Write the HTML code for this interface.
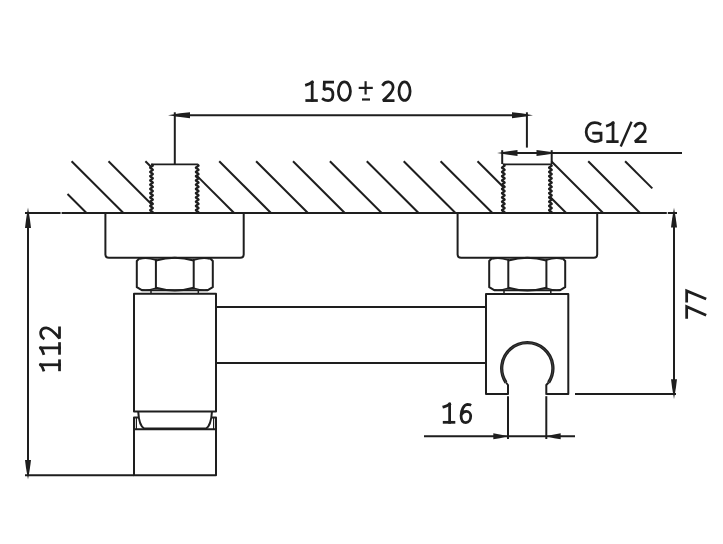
<!DOCTYPE html>
<html><head><meta charset="utf-8"><style>
html,body{margin:0;padding:0;background:#fff;width:723px;height:544px;overflow:hidden}
svg{display:block}
text{font-family:"Liberation Sans",sans-serif;fill:#1e1e1e}
</style></head><body>
<svg width="723" height="544" viewBox="0 0 723 544">
<rect width="723" height="544" fill="#fff"/>
<line x1="67.50" y1="194.00" x2="86.50" y2="213.00" stroke="#1e1e1e" stroke-width="2.0"/>
<line x1="71.60" y1="161.20" x2="123.40" y2="213.00" stroke="#1e1e1e" stroke-width="2.0"/>
<line x1="108.50" y1="161.20" x2="151.50" y2="204.20" stroke="#1e1e1e" stroke-width="2.0"/>
<line x1="145.40" y1="161.20" x2="151.50" y2="167.30" stroke="#1e1e1e" stroke-width="2.0"/>
<line x1="197.20" y1="176.10" x2="234.10" y2="213.00" stroke="#1e1e1e" stroke-width="2.0"/>
<line x1="219.20" y1="161.20" x2="271.00" y2="213.00" stroke="#1e1e1e" stroke-width="2.0"/>
<line x1="256.10" y1="161.20" x2="307.90" y2="213.00" stroke="#1e1e1e" stroke-width="2.0"/>
<line x1="293.00" y1="161.20" x2="344.80" y2="213.00" stroke="#1e1e1e" stroke-width="2.0"/>
<line x1="329.90" y1="161.20" x2="381.70" y2="213.00" stroke="#1e1e1e" stroke-width="2.0"/>
<line x1="366.80" y1="161.20" x2="418.60" y2="213.00" stroke="#1e1e1e" stroke-width="2.0"/>
<line x1="403.70" y1="161.20" x2="455.50" y2="213.00" stroke="#1e1e1e" stroke-width="2.0"/>
<line x1="440.60" y1="161.20" x2="492.40" y2="213.00" stroke="#1e1e1e" stroke-width="2.0"/>
<line x1="477.50" y1="161.20" x2="503.30" y2="187.00" stroke="#1e1e1e" stroke-width="2.0"/>
<line x1="550.40" y1="197.20" x2="566.20" y2="213.00" stroke="#1e1e1e" stroke-width="2.0"/>
<line x1="551.30" y1="161.20" x2="603.10" y2="213.00" stroke="#1e1e1e" stroke-width="2.0"/>
<line x1="588.20" y1="161.20" x2="640.00" y2="213.00" stroke="#1e1e1e" stroke-width="2.0"/>
<line x1="625.10" y1="161.20" x2="652.30" y2="188.40" stroke="#1e1e1e" stroke-width="2.0"/>
<line x1="25.00" y1="213.00" x2="60.60" y2="213.00" stroke="#1e1e1e" stroke-width="2.0"/>
<line x1="61.60" y1="213.00" x2="666.80" y2="213.00" stroke="#1e1e1e" stroke-width="2.0"/>
<line x1="667.80" y1="213.00" x2="677.00" y2="213.00" stroke="#1e1e1e" stroke-width="2.0"/>
<path d="M151.50,164.50 L152.02,164.75 L152.48,165.00 L152.80,165.25 L152.94,165.50 L152.89,165.75 L152.66,166.00 L152.26,166.25 L151.77,166.50 L151.23,166.75 L150.74,167.00 L150.34,167.25 L150.11,167.50 L150.06,167.75 L150.20,168.00 L150.52,168.25 L150.98,168.50 L151.50,168.75 L152.02,169.00 L152.48,169.25 L152.80,169.50 L152.94,169.75 L152.89,170.00 L152.66,170.25 L152.26,170.50 L151.77,170.75 L151.23,171.00 L150.74,171.25 L150.34,171.50 L150.11,171.75 L150.06,172.00 L150.20,172.25 L150.52,172.50 L150.98,172.75 L151.50,173.00 L152.02,173.25 L152.48,173.50 L152.80,173.75 L152.94,174.00 L152.89,174.25 L152.66,174.50 L152.26,174.75 L151.77,175.00 L151.23,175.25 L150.74,175.50 L150.34,175.75 L150.11,176.00 L150.06,176.25 L150.20,176.50 L150.52,176.75 L150.98,177.00 L151.50,177.25 L152.02,177.50 L152.48,177.75 L152.80,178.00 L152.94,178.25 L152.89,178.50 L152.66,178.75 L152.26,179.00 L151.77,179.25 L151.23,179.50 L150.74,179.75 L150.34,180.00 L150.11,180.25 L150.06,180.50 L150.20,180.75 L150.52,181.00 L150.98,181.25 L151.50,181.50 L152.02,181.75 L152.48,182.00 L152.80,182.25 L152.94,182.50 L152.89,182.75 L152.66,183.00 L152.26,183.25 L151.77,183.50 L151.23,183.75 L150.74,184.00 L150.34,184.25 L150.11,184.50 L150.06,184.75 L150.20,185.00 L150.52,185.25 L150.98,185.50 L151.50,185.75 L152.02,186.00 L152.48,186.25 L152.80,186.50 L152.94,186.75 L152.89,187.00 L152.66,187.25 L152.26,187.50 L151.77,187.75 L151.23,188.00 L150.74,188.25 L150.34,188.50 L150.11,188.75 L150.06,189.00 L150.20,189.25 L150.52,189.50 L150.98,189.75 L151.50,190.00 L152.02,190.25 L152.48,190.50 L152.80,190.75 L152.94,191.00 L152.89,191.25 L152.66,191.50 L152.26,191.75 L151.77,192.00 L151.23,192.25 L150.74,192.50 L150.34,192.75 L150.11,193.00 L150.06,193.25 L150.20,193.50 L150.52,193.75 L150.98,194.00 L151.50,194.25 L152.02,194.50 L152.48,194.75 L152.80,195.00 L152.94,195.25 L152.89,195.50 L152.66,195.75 L152.26,196.00 L151.77,196.25 L151.23,196.50 L150.74,196.75 L150.34,197.00 L150.11,197.25 L150.06,197.50 L150.20,197.75 L150.52,198.00 L150.98,198.25 L151.50,198.50 L152.02,198.75 L152.48,199.00 L152.80,199.25 L152.94,199.50 L152.89,199.75 L152.66,200.00 L152.26,200.25 L151.77,200.50 L151.23,200.75 L150.74,201.00 L150.34,201.25 L150.11,201.50 L150.06,201.75 L150.20,202.00 L150.52,202.25 L150.98,202.50 L151.50,202.75 L152.02,203.00 L152.48,203.25 L152.80,203.50 L152.94,203.75 L152.89,204.00 L152.66,204.25 L152.26,204.50 L151.77,204.75 L151.23,205.00 L150.74,205.25 L150.34,205.50 L150.11,205.75 L150.06,206.00 L150.20,206.25 L150.52,206.50 L150.98,206.75 L151.50,207.00 L152.02,207.25 L152.48,207.50 L152.80,207.75 L152.94,208.00 L152.89,208.25 L152.66,208.50 L152.26,208.75 L151.77,209.00 L151.23,209.25 L150.74,209.50 L150.34,209.75 L150.11,210.00 L150.06,210.25 L150.20,210.50 L150.52,210.75 L150.98,211.00 L151.50,211.25 L152.02,211.50 L152.48,211.75 L152.80,212.00 L152.94,212.25 L152.89,212.50 L152.66,212.75 L152.26,213.00" stroke="#1e1e1e" stroke-width="2.0" fill="none" stroke-linejoin="round"/>
<path d="M197.20,164.50 L197.72,164.75 L198.18,165.00 L198.50,165.25 L198.64,165.50 L198.59,165.75 L198.36,166.00 L197.96,166.25 L197.47,166.50 L196.93,166.75 L196.44,167.00 L196.04,167.25 L195.81,167.50 L195.76,167.75 L195.90,168.00 L196.22,168.25 L196.68,168.50 L197.20,168.75 L197.72,169.00 L198.18,169.25 L198.50,169.50 L198.64,169.75 L198.59,170.00 L198.36,170.25 L197.96,170.50 L197.47,170.75 L196.93,171.00 L196.44,171.25 L196.04,171.50 L195.81,171.75 L195.76,172.00 L195.90,172.25 L196.22,172.50 L196.68,172.75 L197.20,173.00 L197.72,173.25 L198.18,173.50 L198.50,173.75 L198.64,174.00 L198.59,174.25 L198.36,174.50 L197.96,174.75 L197.47,175.00 L196.93,175.25 L196.44,175.50 L196.04,175.75 L195.81,176.00 L195.76,176.25 L195.90,176.50 L196.22,176.75 L196.68,177.00 L197.20,177.25 L197.72,177.50 L198.18,177.75 L198.50,178.00 L198.64,178.25 L198.59,178.50 L198.36,178.75 L197.96,179.00 L197.47,179.25 L196.93,179.50 L196.44,179.75 L196.04,180.00 L195.81,180.25 L195.76,180.50 L195.90,180.75 L196.22,181.00 L196.68,181.25 L197.20,181.50 L197.72,181.75 L198.18,182.00 L198.50,182.25 L198.64,182.50 L198.59,182.75 L198.36,183.00 L197.96,183.25 L197.47,183.50 L196.93,183.75 L196.44,184.00 L196.04,184.25 L195.81,184.50 L195.76,184.75 L195.90,185.00 L196.22,185.25 L196.68,185.50 L197.20,185.75 L197.72,186.00 L198.18,186.25 L198.50,186.50 L198.64,186.75 L198.59,187.00 L198.36,187.25 L197.96,187.50 L197.47,187.75 L196.93,188.00 L196.44,188.25 L196.04,188.50 L195.81,188.75 L195.76,189.00 L195.90,189.25 L196.22,189.50 L196.68,189.75 L197.20,190.00 L197.72,190.25 L198.18,190.50 L198.50,190.75 L198.64,191.00 L198.59,191.25 L198.36,191.50 L197.96,191.75 L197.47,192.00 L196.93,192.25 L196.44,192.50 L196.04,192.75 L195.81,193.00 L195.76,193.25 L195.90,193.50 L196.22,193.75 L196.68,194.00 L197.20,194.25 L197.72,194.50 L198.18,194.75 L198.50,195.00 L198.64,195.25 L198.59,195.50 L198.36,195.75 L197.96,196.00 L197.47,196.25 L196.93,196.50 L196.44,196.75 L196.04,197.00 L195.81,197.25 L195.76,197.50 L195.90,197.75 L196.22,198.00 L196.68,198.25 L197.20,198.50 L197.72,198.75 L198.18,199.00 L198.50,199.25 L198.64,199.50 L198.59,199.75 L198.36,200.00 L197.96,200.25 L197.47,200.50 L196.93,200.75 L196.44,201.00 L196.04,201.25 L195.81,201.50 L195.76,201.75 L195.90,202.00 L196.22,202.25 L196.68,202.50 L197.20,202.75 L197.72,203.00 L198.18,203.25 L198.50,203.50 L198.64,203.75 L198.59,204.00 L198.36,204.25 L197.96,204.50 L197.47,204.75 L196.93,205.00 L196.44,205.25 L196.04,205.50 L195.81,205.75 L195.76,206.00 L195.90,206.25 L196.22,206.50 L196.68,206.75 L197.20,207.00 L197.72,207.25 L198.18,207.50 L198.50,207.75 L198.64,208.00 L198.59,208.25 L198.36,208.50 L197.96,208.75 L197.47,209.00 L196.93,209.25 L196.44,209.50 L196.04,209.75 L195.81,210.00 L195.76,210.25 L195.90,210.50 L196.22,210.75 L196.68,211.00 L197.20,211.25 L197.72,211.50 L198.18,211.75 L198.50,212.00 L198.64,212.25 L198.59,212.50 L198.36,212.75 L197.96,213.00" stroke="#1e1e1e" stroke-width="2.0" fill="none" stroke-linejoin="round"/>
<line x1="151.00" y1="164.30" x2="197.70" y2="164.30" stroke="#1e1e1e" stroke-width="1.7"/>
<path d="M503.30,164.50 L503.82,164.75 L504.28,165.00 L504.60,165.25 L504.74,165.50 L504.69,165.75 L504.46,166.00 L504.06,166.25 L503.57,166.50 L503.03,166.75 L502.54,167.00 L502.14,167.25 L501.91,167.50 L501.86,167.75 L502.00,168.00 L502.32,168.25 L502.78,168.50 L503.30,168.75 L503.82,169.00 L504.28,169.25 L504.60,169.50 L504.74,169.75 L504.69,170.00 L504.46,170.25 L504.06,170.50 L503.57,170.75 L503.03,171.00 L502.54,171.25 L502.14,171.50 L501.91,171.75 L501.86,172.00 L502.00,172.25 L502.32,172.50 L502.78,172.75 L503.30,173.00 L503.82,173.25 L504.28,173.50 L504.60,173.75 L504.74,174.00 L504.69,174.25 L504.46,174.50 L504.06,174.75 L503.57,175.00 L503.03,175.25 L502.54,175.50 L502.14,175.75 L501.91,176.00 L501.86,176.25 L502.00,176.50 L502.32,176.75 L502.78,177.00 L503.30,177.25 L503.82,177.50 L504.28,177.75 L504.60,178.00 L504.74,178.25 L504.69,178.50 L504.46,178.75 L504.06,179.00 L503.57,179.25 L503.03,179.50 L502.54,179.75 L502.14,180.00 L501.91,180.25 L501.86,180.50 L502.00,180.75 L502.32,181.00 L502.78,181.25 L503.30,181.50 L503.82,181.75 L504.28,182.00 L504.60,182.25 L504.74,182.50 L504.69,182.75 L504.46,183.00 L504.06,183.25 L503.57,183.50 L503.03,183.75 L502.54,184.00 L502.14,184.25 L501.91,184.50 L501.86,184.75 L502.00,185.00 L502.32,185.25 L502.78,185.50 L503.30,185.75 L503.82,186.00 L504.28,186.25 L504.60,186.50 L504.74,186.75 L504.69,187.00 L504.46,187.25 L504.06,187.50 L503.57,187.75 L503.03,188.00 L502.54,188.25 L502.14,188.50 L501.91,188.75 L501.86,189.00 L502.00,189.25 L502.32,189.50 L502.78,189.75 L503.30,190.00 L503.82,190.25 L504.28,190.50 L504.60,190.75 L504.74,191.00 L504.69,191.25 L504.46,191.50 L504.06,191.75 L503.57,192.00 L503.03,192.25 L502.54,192.50 L502.14,192.75 L501.91,193.00 L501.86,193.25 L502.00,193.50 L502.32,193.75 L502.78,194.00 L503.30,194.25 L503.82,194.50 L504.28,194.75 L504.60,195.00 L504.74,195.25 L504.69,195.50 L504.46,195.75 L504.06,196.00 L503.57,196.25 L503.03,196.50 L502.54,196.75 L502.14,197.00 L501.91,197.25 L501.86,197.50 L502.00,197.75 L502.32,198.00 L502.78,198.25 L503.30,198.50 L503.82,198.75 L504.28,199.00 L504.60,199.25 L504.74,199.50 L504.69,199.75 L504.46,200.00 L504.06,200.25 L503.57,200.50 L503.03,200.75 L502.54,201.00 L502.14,201.25 L501.91,201.50 L501.86,201.75 L502.00,202.00 L502.32,202.25 L502.78,202.50 L503.30,202.75 L503.82,203.00 L504.28,203.25 L504.60,203.50 L504.74,203.75 L504.69,204.00 L504.46,204.25 L504.06,204.50 L503.57,204.75 L503.03,205.00 L502.54,205.25 L502.14,205.50 L501.91,205.75 L501.86,206.00 L502.00,206.25 L502.32,206.50 L502.78,206.75 L503.30,207.00 L503.82,207.25 L504.28,207.50 L504.60,207.75 L504.74,208.00 L504.69,208.25 L504.46,208.50 L504.06,208.75 L503.57,209.00 L503.03,209.25 L502.54,209.50 L502.14,209.75 L501.91,210.00 L501.86,210.25 L502.00,210.50 L502.32,210.75 L502.78,211.00 L503.30,211.25 L503.82,211.50 L504.28,211.75 L504.60,212.00 L504.74,212.25 L504.69,212.50 L504.46,212.75 L504.06,213.00" stroke="#1e1e1e" stroke-width="2.0" fill="none" stroke-linejoin="round"/>
<path d="M550.40,164.50 L550.92,164.75 L551.38,165.00 L551.70,165.25 L551.84,165.50 L551.79,165.75 L551.56,166.00 L551.16,166.25 L550.67,166.50 L550.13,166.75 L549.64,167.00 L549.24,167.25 L549.01,167.50 L548.96,167.75 L549.10,168.00 L549.42,168.25 L549.88,168.50 L550.40,168.75 L550.92,169.00 L551.38,169.25 L551.70,169.50 L551.84,169.75 L551.79,170.00 L551.56,170.25 L551.16,170.50 L550.67,170.75 L550.13,171.00 L549.64,171.25 L549.24,171.50 L549.01,171.75 L548.96,172.00 L549.10,172.25 L549.42,172.50 L549.88,172.75 L550.40,173.00 L550.92,173.25 L551.38,173.50 L551.70,173.75 L551.84,174.00 L551.79,174.25 L551.56,174.50 L551.16,174.75 L550.67,175.00 L550.13,175.25 L549.64,175.50 L549.24,175.75 L549.01,176.00 L548.96,176.25 L549.10,176.50 L549.42,176.75 L549.88,177.00 L550.40,177.25 L550.92,177.50 L551.38,177.75 L551.70,178.00 L551.84,178.25 L551.79,178.50 L551.56,178.75 L551.16,179.00 L550.67,179.25 L550.13,179.50 L549.64,179.75 L549.24,180.00 L549.01,180.25 L548.96,180.50 L549.10,180.75 L549.42,181.00 L549.88,181.25 L550.40,181.50 L550.92,181.75 L551.38,182.00 L551.70,182.25 L551.84,182.50 L551.79,182.75 L551.56,183.00 L551.16,183.25 L550.67,183.50 L550.13,183.75 L549.64,184.00 L549.24,184.25 L549.01,184.50 L548.96,184.75 L549.10,185.00 L549.42,185.25 L549.88,185.50 L550.40,185.75 L550.92,186.00 L551.38,186.25 L551.70,186.50 L551.84,186.75 L551.79,187.00 L551.56,187.25 L551.16,187.50 L550.67,187.75 L550.13,188.00 L549.64,188.25 L549.24,188.50 L549.01,188.75 L548.96,189.00 L549.10,189.25 L549.42,189.50 L549.88,189.75 L550.40,190.00 L550.92,190.25 L551.38,190.50 L551.70,190.75 L551.84,191.00 L551.79,191.25 L551.56,191.50 L551.16,191.75 L550.67,192.00 L550.13,192.25 L549.64,192.50 L549.24,192.75 L549.01,193.00 L548.96,193.25 L549.10,193.50 L549.42,193.75 L549.88,194.00 L550.40,194.25 L550.92,194.50 L551.38,194.75 L551.70,195.00 L551.84,195.25 L551.79,195.50 L551.56,195.75 L551.16,196.00 L550.67,196.25 L550.13,196.50 L549.64,196.75 L549.24,197.00 L549.01,197.25 L548.96,197.50 L549.10,197.75 L549.42,198.00 L549.88,198.25 L550.40,198.50 L550.92,198.75 L551.38,199.00 L551.70,199.25 L551.84,199.50 L551.79,199.75 L551.56,200.00 L551.16,200.25 L550.67,200.50 L550.13,200.75 L549.64,201.00 L549.24,201.25 L549.01,201.50 L548.96,201.75 L549.10,202.00 L549.42,202.25 L549.88,202.50 L550.40,202.75 L550.92,203.00 L551.38,203.25 L551.70,203.50 L551.84,203.75 L551.79,204.00 L551.56,204.25 L551.16,204.50 L550.67,204.75 L550.13,205.00 L549.64,205.25 L549.24,205.50 L549.01,205.75 L548.96,206.00 L549.10,206.25 L549.42,206.50 L549.88,206.75 L550.40,207.00 L550.92,207.25 L551.38,207.50 L551.70,207.75 L551.84,208.00 L551.79,208.25 L551.56,208.50 L551.16,208.75 L550.67,209.00 L550.13,209.25 L549.64,209.50 L549.24,209.75 L549.01,210.00 L548.96,210.25 L549.10,210.50 L549.42,210.75 L549.88,211.00 L550.40,211.25 L550.92,211.50 L551.38,211.75 L551.70,212.00 L551.84,212.25 L551.79,212.50 L551.56,212.75 L551.16,213.00" stroke="#1e1e1e" stroke-width="2.0" fill="none" stroke-linejoin="round"/>
<line x1="502.80" y1="164.30" x2="550.90" y2="164.30" stroke="#1e1e1e" stroke-width="1.7"/>
<path d="M105.4,213 L105.4,254.2 Q105.4,257.7 108.9,257.7 L240.2,257.7 Q243.7,257.7 243.7,254.2 L243.7,213" stroke="#1e1e1e" stroke-width="2.0" fill="none" stroke-linejoin="round"/>
<path d="M457.6,213 L457.6,254.2 Q457.6,257.7 461.1,257.7 L593.7,257.7 Q597.2,257.7 597.2,254.2 L597.2,213" stroke="#1e1e1e" stroke-width="2.0" fill="none" stroke-linejoin="round"/>
<path d="M139.8,258 L136.8,261 L136.8,287.2 L141.8,290.2 L207.8,290.2 L212.8,287.2 L212.8,261 L209.8,258" stroke="#1e1e1e" stroke-width="2.0" fill="none" stroke-linejoin="round"/>
<line x1="155.90" y1="259.00" x2="155.90" y2="289.20" stroke="#1e1e1e" stroke-width="2.0"/>
<line x1="193.70" y1="259.00" x2="193.70" y2="289.20" stroke="#1e1e1e" stroke-width="2.0"/>
<path d="M155.9,260.5 Q174.8,255 193.7,260.5" stroke="#1e1e1e" stroke-width="2.0" fill="none" stroke-linejoin="round"/>
<path d="M155.9,287.7 Q174.8,293.2 193.7,287.7" stroke="#1e1e1e" stroke-width="2.0" fill="none" stroke-linejoin="round"/>
<path d="M139.8,259 Q146.35000000000002,257 155.9,260" stroke="#1e1e1e" stroke-width="1.4" fill="none" stroke-linejoin="round"/>
<path d="M193.7,260 Q203.25,257 209.8,259" stroke="#1e1e1e" stroke-width="1.4" fill="none" stroke-linejoin="round"/>
<path d="M141.8,289.7 Q146.35000000000002,291.2 155.9,288.2" stroke="#1e1e1e" stroke-width="1.4" fill="none" stroke-linejoin="round"/>
<path d="M193.7,288.2 Q203.25,291.2 207.8,289.7" stroke="#1e1e1e" stroke-width="1.4" fill="none" stroke-linejoin="round"/>
<path d="M492.2,258 L489.2,261 L489.2,287.2 L494.2,290.2 L560.2,290.2 L565.2,287.2 L565.2,261 L562.2,258" stroke="#1e1e1e" stroke-width="2.0" fill="none" stroke-linejoin="round"/>
<line x1="508.30" y1="259.00" x2="508.30" y2="289.20" stroke="#1e1e1e" stroke-width="2.0"/>
<line x1="546.40" y1="259.00" x2="546.40" y2="289.20" stroke="#1e1e1e" stroke-width="2.0"/>
<path d="M508.3,260.5 Q527.35,255 546.4,260.5" stroke="#1e1e1e" stroke-width="2.0" fill="none" stroke-linejoin="round"/>
<path d="M508.3,287.7 Q527.35,293.2 546.4,287.7" stroke="#1e1e1e" stroke-width="2.0" fill="none" stroke-linejoin="round"/>
<path d="M492.2,259 Q498.75,257 508.3,260" stroke="#1e1e1e" stroke-width="1.4" fill="none" stroke-linejoin="round"/>
<path d="M546.4,260 Q555.8,257 562.2,259" stroke="#1e1e1e" stroke-width="1.4" fill="none" stroke-linejoin="round"/>
<path d="M494.2,289.7 Q498.75,291.2 508.3,288.2" stroke="#1e1e1e" stroke-width="1.4" fill="none" stroke-linejoin="round"/>
<path d="M546.4,288.2 Q555.8,291.2 560.2,289.7" stroke="#1e1e1e" stroke-width="1.4" fill="none" stroke-linejoin="round"/>
<line x1="151.00" y1="290.00" x2="151.00" y2="294.00" stroke="#1e1e1e" stroke-width="1.5"/>
<line x1="198.30" y1="290.00" x2="198.30" y2="294.00" stroke="#1e1e1e" stroke-width="1.5"/>
<line x1="504.00" y1="290.00" x2="504.00" y2="294.00" stroke="#1e1e1e" stroke-width="1.5"/>
<line x1="550.80" y1="290.00" x2="550.80" y2="294.00" stroke="#1e1e1e" stroke-width="1.5"/>
<path d="M134,411.4 L134,293.7 L216,293.7 L216,411.4 Z" stroke="#1e1e1e" stroke-width="2.0" fill="none" stroke-linejoin="round"/>
<path d="M138.2,411.4 Q139,426 144.3,428.6 L206,428.6 Q211,426 212,411.4" stroke="#1e1e1e" stroke-width="2.0" fill="none" stroke-linejoin="round"/>
<path d="M134,429.2 L134,417.4 L138,417.4" stroke="#1e1e1e" stroke-width="2.0" fill="none" stroke-linejoin="round"/>
<line x1="136.40" y1="418.00" x2="136.40" y2="429.00" stroke="#1e1e1e" stroke-width="1.2"/>
<path d="M216,429.2 L216,417.4 L212,417.4" stroke="#1e1e1e" stroke-width="2.0" fill="none" stroke-linejoin="round"/>
<line x1="213.60" y1="418.00" x2="213.60" y2="429.00" stroke="#1e1e1e" stroke-width="1.2"/>
<path d="M134,429.2 L216,429.2 L216,475.2 L134,475.2 Z" stroke="#1e1e1e" stroke-width="2.0" fill="none" stroke-linejoin="round"/>
<line x1="216.00" y1="307.00" x2="486.00" y2="307.00" stroke="#1e1e1e" stroke-width="2.0"/>
<line x1="216.00" y1="363.00" x2="486.00" y2="363.00" stroke="#1e1e1e" stroke-width="2.0"/>
<path d="M508,393.9 L486,393.9 L486,294 L568.3,294 L568.3,393.9 L546.3,393.9" stroke="#1e1e1e" stroke-width="2.0" fill="none" stroke-linejoin="round"/>
<path d="M506.00,382.5 A25.6,25.6 0 1 1 548.60,382.5" stroke="#1e1e1e" stroke-width="3.3" fill="none" stroke-linejoin="round"/>
<path d="M506.00,382.5 A25.6,25.6 0 1 1 548.60,382.5" stroke="#555555" stroke-width="0.6" fill="none" stroke-linejoin="round"/>
<path d="M506.00,382.5 L508,385 L508,394.8" stroke="#1e1e1e" stroke-width="2.0" fill="none" stroke-linejoin="round"/>
<path d="M548.60,382.5 L546.3,385 L546.3,394.8" stroke="#1e1e1e" stroke-width="2.0" fill="none" stroke-linejoin="round"/>
<line x1="508.00" y1="396.20" x2="508.00" y2="439.00" stroke="#1e1e1e" stroke-width="2.0"/>
<line x1="546.30" y1="396.20" x2="546.30" y2="439.00" stroke="#1e1e1e" stroke-width="2.0"/>
<line x1="174.80" y1="112.30" x2="174.80" y2="164.00" stroke="#1e1e1e" stroke-width="2.0"/>
<line x1="526.90" y1="112.30" x2="526.90" y2="147.60" stroke="#1e1e1e" stroke-width="2.0"/>
<line x1="174.80" y1="115.20" x2="526.90" y2="115.20" stroke="#1e1e1e" stroke-width="2.0"/>
<polygon points="168.00,115.20 180.10,113.34 190.00,112.20 190.00,118.20 180.10,117.06" fill="#1e1e1e"/>
<polygon points="533.00,115.20 521.45,117.06 512.00,118.20 512.00,112.20 521.45,113.34" fill="#1e1e1e"/>
<line x1="502.20" y1="150.20" x2="502.20" y2="164.00" stroke="#1e1e1e" stroke-width="2.0"/>
<line x1="551.70" y1="150.20" x2="551.70" y2="164.00" stroke="#1e1e1e" stroke-width="2.0"/>
<line x1="502.20" y1="153.00" x2="682.00" y2="153.00" stroke="#1e1e1e" stroke-width="2.0"/>
<polygon points="497.00,153.00 508.27,151.14 517.50,150.00 517.50,156.00 508.27,154.86" fill="#1e1e1e"/>
<polygon points="557.00,153.00 545.73,154.86 536.50,156.00 536.50,150.00 545.73,151.14" fill="#1e1e1e"/>
<line x1="28.00" y1="213.00" x2="28.00" y2="475.30" stroke="#1e1e1e" stroke-width="2.0"/>
<line x1="25.00" y1="475.30" x2="134.00" y2="475.30" stroke="#1e1e1e" stroke-width="2.0"/>
<polygon points="28.00,207.60 29.86,218.88 31.00,228.10 25.00,228.10 26.14,218.88" fill="#1e1e1e"/>
<polygon points="28.00,479.50 26.14,468.77 25.00,460.00 31.00,460.00 29.86,468.77" fill="#1e1e1e"/>
<line x1="674.00" y1="213.00" x2="674.00" y2="394.00" stroke="#1e1e1e" stroke-width="2.0"/>
<line x1="575.00" y1="394.00" x2="676.00" y2="394.00" stroke="#1e1e1e" stroke-width="2.0"/>
<polygon points="674.00,207.80 675.86,218.69 677.00,227.60 671.00,227.60 672.14,218.69" fill="#1e1e1e"/>
<polygon points="674.00,399.00 672.14,388.11 671.00,379.20 677.00,379.20 675.86,388.11" fill="#1e1e1e"/>
<line x1="424.00" y1="436.30" x2="575.00" y2="436.30" stroke="#1e1e1e" stroke-width="2.0"/>
<polygon points="507.80,436.30 499.82,438.16 493.30,439.30 493.30,433.30 499.82,434.44" fill="#1e1e1e"/>
<polygon points="546.20,436.30 554.18,434.44 560.70,433.30 560.70,439.30 554.18,438.16" fill="#1e1e1e"/>
<path d="M 306.49,84.93 Q 309.67,84.01 312.18,82.17" stroke="#1e1e1e" stroke-width="2.75" fill="none" stroke-linecap="square" stroke-linejoin="miter" stroke-miterlimit="2"/>
<path d="M 312.18,82.17 L 312.18,100.53" stroke="#1e1e1e" stroke-width="2.75" fill="none" stroke-linecap="square" stroke-linejoin="miter" stroke-miterlimit="2"/>
<path d="M 306.77,100.53 L 316.43,100.53" stroke="#1e1e1e" stroke-width="2.75" fill="none" stroke-linecap="square" stroke-linejoin="miter" stroke-miterlimit="2"/>
<path d="M 332.63,82.17 L 324.35,82.17 L 324.05,89.70 C 325.61,88.78 327.56,88.41 328.54,88.60 C 331.46,88.96 332.93,91.72 332.93,94.65 C 332.93,98.69 330.98,100.53 328.05,100.53 C 326.10,100.53 324.35,99.97 323.18,99.06" stroke="#1e1e1e" stroke-width="2.75" fill="none" stroke-linecap="square" stroke-linejoin="miter" stroke-miterlimit="2"/>
<path d="M 344.40,81.97 C 347.73,81.97 350.43,86.11 350.43,91.20 C 350.43,96.29 347.73,100.42 344.40,100.42 C 341.07,100.42 338.38,96.29 338.38,91.20 C 338.38,86.11 341.07,81.97 344.40,81.97 Z" stroke="#1e1e1e" stroke-width="2.75" fill="none" stroke-linecap="square" stroke-linejoin="miter" stroke-miterlimit="2"/>
<line x1="358.70" y1="87.90" x2="372.80" y2="87.90" stroke="#1e1e1e" stroke-width="2.2"/>
<line x1="365.60" y1="81.20" x2="365.60" y2="94.50" stroke="#1e1e1e" stroke-width="2.2"/>
<line x1="362.00" y1="99.50" x2="370.00" y2="99.50" stroke="#1e1e1e" stroke-width="2.2"/>
<path d="M 383.18,84.57 C 385.00,81.97 387.54,81.79 389.06,81.97 C 391.60,82.53 393.12,84.76 393.12,87.54 C 393.12,91.25 390.08,94.59 382.98,100.53 L 393.12,100.53" stroke="#1e1e1e" stroke-width="2.75" fill="none" stroke-linecap="square" stroke-linejoin="miter" stroke-miterlimit="2"/>
<path d="M 404.55,81.97 C 407.63,81.97 410.12,86.11 410.12,91.20 C 410.12,96.29 407.63,100.42 404.55,100.42 C 401.47,100.42 398.98,96.29 398.98,91.20 C 398.98,86.11 401.47,81.97 404.55,81.97 Z" stroke="#1e1e1e" stroke-width="2.75" fill="none" stroke-linecap="square" stroke-linejoin="miter" stroke-miterlimit="2"/>
<path d="M 443.88,406.81 Q 447.10,405.90 449.63,404.07" stroke="#1e1e1e" stroke-width="2.75" fill="none" stroke-linecap="square" stroke-linejoin="miter" stroke-miterlimit="2"/>
<path d="M 449.63,404.07 L 449.63,422.32" stroke="#1e1e1e" stroke-width="2.75" fill="none" stroke-linecap="square" stroke-linejoin="miter" stroke-miterlimit="2"/>
<path d="M 444.18,422.32 L 453.93,422.32" stroke="#1e1e1e" stroke-width="2.75" fill="none" stroke-linecap="square" stroke-linejoin="miter" stroke-miterlimit="2"/>
<path d="M 469.95,404.74 C 469.28,404.38 468.31,404.38 467.35,404.38 C 463.97,404.74 461.07,409.85 461.07,415.69 C 461.07,420.07 463.00,422.62 465.90,422.62 C 468.80,422.62 470.73,419.70 470.73,416.06 C 470.73,413.50 468.99,411.49 466.38,411.49 C 463.97,411.49 462.04,413.13 461.27,414.96" stroke="#1e1e1e" stroke-width="2.75" fill="none" stroke-linecap="square" stroke-linejoin="miter" stroke-miterlimit="2"/>
<path d="M 599.99,123.99 C 598.50,123.05 596.57,122.67 594.79,122.67 C 589.74,122.67 586.17,126.82 586.17,132.10 C 586.17,137.75 589.74,141.53 594.79,141.53 C 597.16,141.53 599.24,140.96 601.02,140.02 L 601.02,133.04 L 593.60,133.04" stroke="#1e1e1e" stroke-width="2.75" fill="none" stroke-linecap="square" stroke-linejoin="miter" stroke-miterlimit="2"/>
<path d="M 607.39,125.77 Q 610.54,124.84 613.02,122.97" stroke="#1e1e1e" stroke-width="2.75" fill="none" stroke-linecap="square" stroke-linejoin="miter" stroke-miterlimit="2"/>
<path d="M 613.02,122.97 L 613.02,141.62" stroke="#1e1e1e" stroke-width="2.75" fill="none" stroke-linecap="square" stroke-linejoin="miter" stroke-miterlimit="2"/>
<path d="M 607.67,141.62 L 617.23,141.62" stroke="#1e1e1e" stroke-width="2.75" fill="none" stroke-linecap="square" stroke-linejoin="miter" stroke-miterlimit="2"/>
<path d="M 631.10,122.80 L 621.20,145.30" stroke="#1e1e1e" stroke-width="2.4" fill="none" stroke-linecap="square" stroke-linejoin="miter" stroke-miterlimit="2"/>
<path d="M 635.18,125.84 C 637.02,123.28 639.59,123.09 641.12,123.28 C 643.69,123.83 645.23,126.03 645.23,128.78 C 645.23,132.45 642.15,135.75 634.98,141.62 L 645.23,141.62" stroke="#1e1e1e" stroke-width="2.75" fill="none" stroke-linecap="square" stroke-linejoin="miter" stroke-miterlimit="2"/>
<g transform="rotate(-90)"><path d="M -370.10,43.50 Q -367.11,42.56 -364.76,40.67" stroke="#1e1e1e" stroke-width="2.75" fill="none" stroke-linecap="square" stroke-linejoin="miter" stroke-miterlimit="2"/><path d="M -364.76,40.67 L -364.76,59.52" stroke="#1e1e1e" stroke-width="2.75" fill="none" stroke-linecap="square" stroke-linejoin="miter" stroke-miterlimit="2"/><path d="M -369.82,59.52 L -360.77,59.52" stroke="#1e1e1e" stroke-width="2.75" fill="none" stroke-linecap="square" stroke-linejoin="miter" stroke-miterlimit="2"/><path d="M -353.62,43.50 Q -350.40,42.56 -347.87,40.67" stroke="#1e1e1e" stroke-width="2.75" fill="none" stroke-linecap="square" stroke-linejoin="miter" stroke-miterlimit="2"/><path d="M -347.87,40.67 L -347.87,59.52" stroke="#1e1e1e" stroke-width="2.75" fill="none" stroke-linecap="square" stroke-linejoin="miter" stroke-miterlimit="2"/><path d="M -353.32,59.52 L -343.57,59.52" stroke="#1e1e1e" stroke-width="2.75" fill="none" stroke-linecap="square" stroke-linejoin="miter" stroke-miterlimit="2"/><path d="M -338.21,43.31 C -336.30,40.67 -333.63,40.49 -332.03,40.67 C -329.37,41.24 -327.77,43.50 -327.77,46.33 C -327.77,50.10 -330.97,53.49 -338.43,59.52 L -327.77,59.52" stroke="#1e1e1e" stroke-width="2.75" fill="none" stroke-linecap="square" stroke-linejoin="miter" stroke-miterlimit="2"/><path d="M -317.32,686.67 L -306.68,686.67 L -314.66,704.92" stroke="#1e1e1e" stroke-width="2.75" fill="none" stroke-linecap="square" stroke-linejoin="miter" stroke-miterlimit="2"/><path d="M -301.12,686.67 L -290.88,686.67 L -298.56,704.92" stroke="#1e1e1e" stroke-width="2.75" fill="none" stroke-linecap="square" stroke-linejoin="miter" stroke-miterlimit="2"/></g>

</svg>
</body></html>
